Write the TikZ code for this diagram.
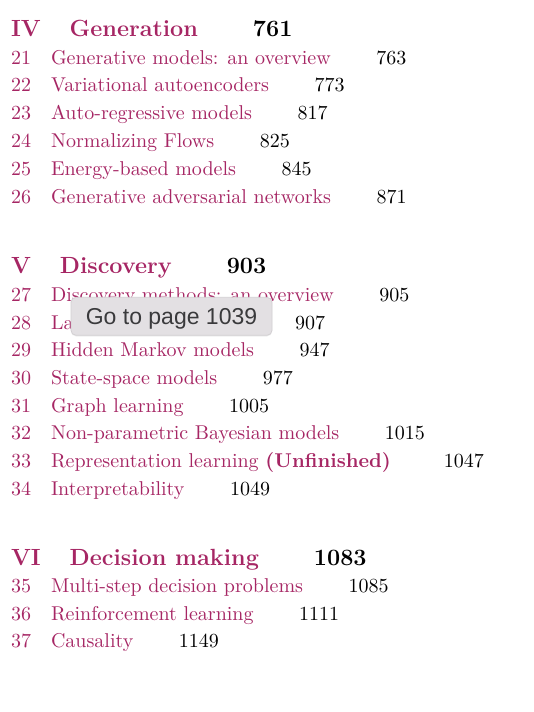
\documentclass[tikz,border=0pt]{standalone}
\usepackage{fontspec}
\usetikzlibrary{shadows}
\newfontfamily\tipfont{Liberation Sans}
\definecolor{toc}{RGB}{166,38,100}
\definecolor{tipfill}{RGB}{227,224,227}
\definecolor{tipedge}{RGB}{210,207,210}
\definecolor{tiptext}{RGB}{58,58,60}
\begin{document}
\begin{tikzpicture}[x=0.5pt,y=-0.5pt,
  every node/.style={inner sep=0pt,outer sep=0pt,anchor=base west},
  partnum/.style={text=toc,font=\fontsize{11.7}{14}\selectfont\bfseries},
  parttitle/.style={partnum},
  partpage/.style={text=black,font=\fontsize{11.7}{14}\selectfont\bfseries},
  chnum/.style={text=toc,font=\fontsize{10}{12}\selectfont},
  chtitle/.style={chnum},
  chpage/.style={text=black,font=\fontsize{10}{12}\selectfont},
  tooltip/.style={anchor=center,fill=tipfill,draw=tipedge,line width=0.4pt,
    rounded corners=2.5pt,minimum width=100.5pt,minimum height=19pt,
    text height=8.3pt,text depth=0pt,text=tiptext,
    font=\tipfont\fontsize{11.5}{13}\selectfont,
    drop shadow={opacity=0.12,shadow xshift=0pt,shadow yshift=-0.6pt}}]
\useasboundingbox (0,0) rectangle (534,712);

% Part IV
\node[partnum] (p4) at (11,36.5) {IV};
\node[parttitle] (p4t) at ([xshift=14.5pt]p4.base east) {Generation};
\node[partpage] (p4p) at ([xshift=27.5pt]p4t.base east) {761};

\node[chnum] (c21) at (11,64) {21};
\node[chtitle] (c21t) at (51,64) {Generative models: an overview};
\node[chpage] (c21p) at ([xshift=22.8pt]c21t.base east) {763};
\node[chnum] (c22) at (11,91.8) {22};
\node[chtitle] (c22t) at (51,91.8) {Variational autoencoders};
\node[chpage] (c22p) at ([xshift=22.8pt]c22t.base east) {773};
\node[chnum] (c23) at (11,119.6) {23};
\node[chtitle] (c23t) at (51,119.6) {Auto-regressive models};
\node[chpage] (c23p) at ([xshift=22.8pt]c23t.base east) {817};
\node[chnum] (c24) at (11,147.4) {24};
\node[chtitle] (c24t) at (51,147.4) {Normalizing Flows};
\node[chpage] (c24p) at ([xshift=22.8pt]c24t.base east) {825};
\node[chnum] (c25) at (11,175.2) {25};
\node[chtitle] (c25t) at (51,175.2) {Energy-based models};
\node[chpage] (c25p) at ([xshift=22.8pt]c25t.base east) {845};
\node[chnum] (c26) at (11,203) {26};
\node[chtitle] (c26t) at (51,203) {Generative adversarial networks};
\node[chpage] (c26p) at ([xshift=22.8pt]c26t.base east) {871};

% Part V
\node[partnum] (p5) at (11,273) {V};
\node[parttitle] (p5t) at ([xshift=14.5pt]p5.base east) {Discovery};
\node[partpage] (p5p) at ([xshift=27.5pt]p5t.base east) {903};

\node[chnum] (c27) at (11,301.3) {27};
\node[chtitle] (c27t) at (51,301.3) {Discovery methods: an overview};
\node[chpage] (c27p) at ([xshift=22.8pt]c27t.base east) {905};
\node[chnum] (c28) at (11,329) {28};
\node[chtitle] (c28t) at (51,329) {La};
\node[chpage] (c28p) at (295,329) {907};
\node[chnum] (c29) at (11,356.7) {29};
\node[chtitle] (c29t) at (51,356.7) {Hidden Markov models};
\node[chpage] (c29p) at ([xshift=22.8pt]c29t.base east) {947};
\node[chnum] (c30) at (11,384.4) {30};
\node[chtitle] (c30t) at (51,384.4) {State-space models};
\node[chpage] (c30p) at ([xshift=22.8pt]c30t.base east) {977};
\node[chnum] (c31) at (11,412.1) {31};
\node[chtitle] (c31t) at (51,412.1) {Graph learning};
\node[chpage] (c31p) at ([xshift=22.8pt]c31t.base east) {1005};
\node[chnum] (c32) at (11,439.8) {32};
\node[chtitle] (c32t) at (51,439.8) {Non-parametric Bayesian models};
\node[chpage] (c32p) at ([xshift=22.8pt]c32t.base east) {1015};
\node[chnum] (c33) at (11,467.5) {33};
\node[chtitle] (c33t) at (51,467.5) {Representation learning \textbf{(Unfinished)}};
\node[chpage] (c33p) at ([xshift=26.5pt]c33t.base east) {1047};
\node[chnum] (c34) at (11,495.2) {34};
\node[chtitle] (c34t) at (51,495.2) {Interpretability};
\node[chpage] (c34p) at ([xshift=22.8pt]c34t.base east) {1049};

% Part VI
\node[partnum] (p6) at (11,565) {VI};
\node[parttitle] (p6t) at ([xshift=14.5pt]p6.base east) {Decision making};
\node[partpage] (p6p) at ([xshift=27.5pt]p6t.base east) {1083};

\node[chnum] (c35) at (11,592.5) {35};
\node[chtitle] (c35t) at (51,592.5) {Multi-step decision problems};
\node[chpage] (c35p) at ([xshift=22.8pt]c35t.base east) {1085};
\node[chnum] (c36) at (11,620.2) {36};
\node[chtitle] (c36t) at (51,620.2) {Reinforcement learning};
\node[chpage] (c36p) at ([xshift=22.8pt]c36t.base east) {1111};
\node[chnum] (c37) at (11,647.9) {37};
\node[chtitle] (c37t) at (51,647.9) {Causality};
\node[chpage] (c37p) at ([xshift=22.8pt]c37t.base east) {1149};

% tooltip
\node[tooltip] (tip) at (171.5,316.3) {Go to page 1039};
\end{tikzpicture}
\end{document}
